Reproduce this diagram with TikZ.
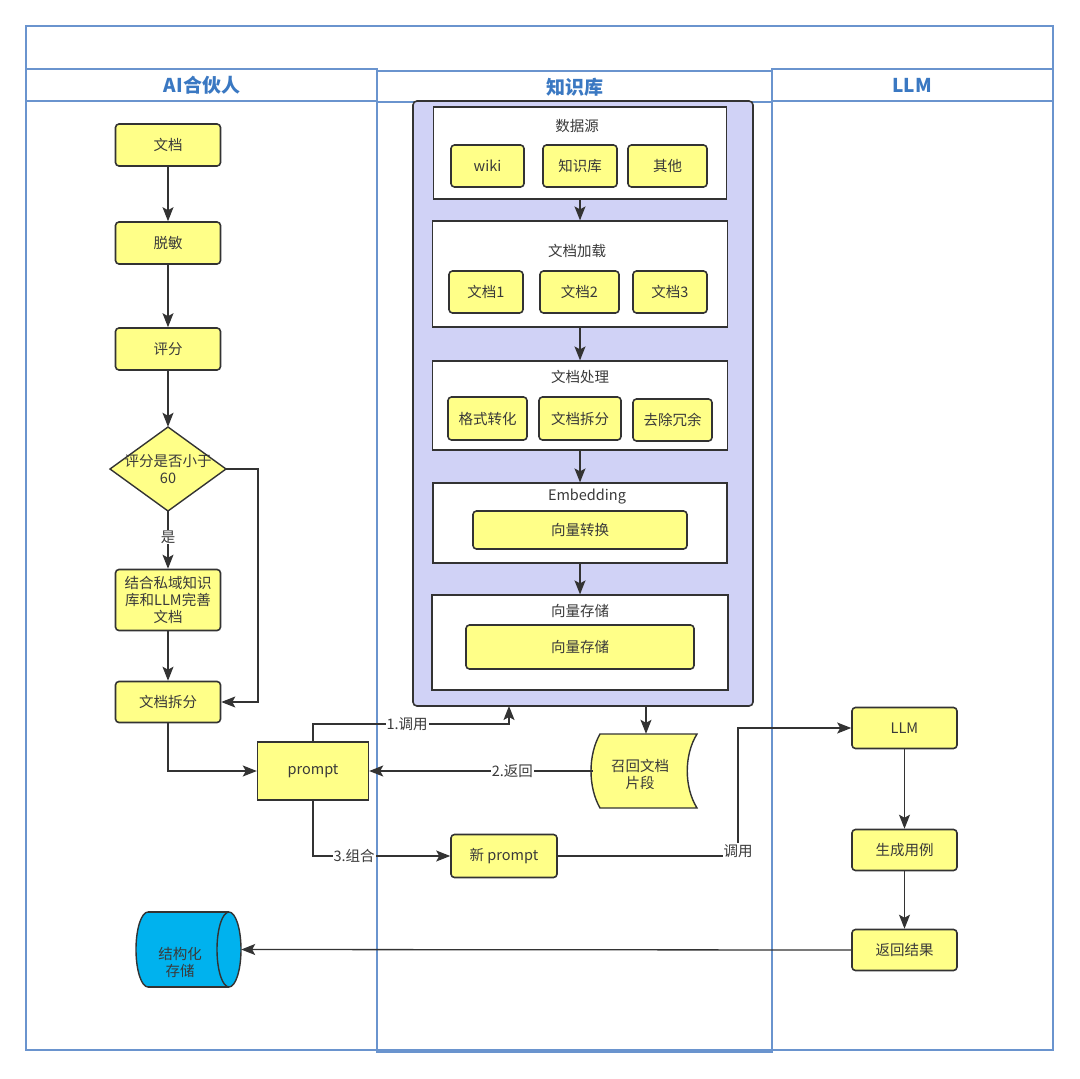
\documentclass[tikz,border=0pt]{standalone}
\usepackage{fontspec}
\setmainfont{Noto Sans CJK SC}
\usetikzlibrary{arrows.meta}
\definecolor{lanec}{HTML}{6A94CE}
\definecolor{hdc}{HTML}{3A78C2}
\definecolor{edgec}{HTML}{333333}
\definecolor{txtc}{HTML}{3A3A3A}
\definecolor{ybox}{HTML}{FFFF88}
\definecolor{kbfill}{HTML}{D0D2F6}
\definecolor{cyl}{HTML}{00B2EE}
\tikzset{
  lane/.style={draw=lanec, line width=1.1pt},
  hd/.style={font=\fontsize{19}{21}\selectfont\bfseries, text=hdc},
  ybox/.style={draw=edgec, fill=ybox, line width=1.6pt, rounded corners=3.5pt, text=txtc,
     font=\fontsize{14.5}{17}\selectfont, align=center, inner sep=0pt},
  panel/.style={draw=edgec, fill=white, line width=1.2pt},
  ptitle/.style={text=txtc, font=\fontsize{14.5}{17}\selectfont},
  arr/.style={draw=edgec, line width=1.3pt, -{Stealth[length=14pt,width=11pt,inset=3pt]}},
  lbl/.style={fill=white, text=txtc, font=\fontsize{14.5}{17}\selectfont, inner sep=1pt},
  ghost/.style={inner sep=0pt, text=txtc, font=\fontsize{14.5}{17}\selectfont, align=center}
}
\begin{document}
\begin{tikzpicture}[x=1pt,y=-1pt]
\useasboundingbox[fill=white] (0,0) rectangle (1080,1079);
% lanes
\draw[lane] (26,26) rectangle (1053,1050);
\draw[lane] (26,69) rectangle (377,1050);
\draw[lane] (26,101) -- (377,101);
\draw[lane] (772,69) rectangle (1053,1050);
\draw[lane] (772,101) -- (1053,101);
\draw[lane] (377,71) rectangle (772,1052);
\draw[lane] (377,102) -- (772,102);
\node[hd] (h1) at (202,85) {AI合伙人};
\node[hd] (h2) at (575,87) {知识库};
\node[hd] (h3) at (912,85) {LLM};

% left flow
\node[ybox, minimum width=105pt, minimum height=42pt] (doc) at (168,145) {文档};
\node[ybox, minimum width=105pt, minimum height=42pt] (desen) at (168,243) {脱敏};
\node[ybox, minimum width=105pt, minimum height=42pt] (score) at (168,349) {评分};
\draw[draw=edgec, fill=ybox, line width=1.4pt] (168,427) -- (226,469) -- (168,511) -- (110,469) -- cycle;
\node[ghost, minimum width=116pt, minimum height=84pt] (dec) at (168,469) {评分是否小于\\60};
\node[ybox, minimum width=105pt, minimum height=61pt] (comb) at (168,600) {结合私域知识\\库和LLM完善\\文档};
\node[ybox, minimum width=105pt, minimum height=41pt] (split) at (168,702) {文档拆分};
\node[draw=edgec, fill=ybox, line width=1.4pt, text=txtc, font=\fontsize{14.5}{17}\selectfont,
      minimum width=111pt, minimum height=58pt, inner sep=0pt] (prompt) at (313,771) {prompt};

% storage cylinder
\fill[cyl] (148,949.5) ellipse (12 and 37.5);
\draw[edgec, line width=1.4pt] (148,949.5) ellipse (12 and 37.5);
\fill[cyl] (148,912) rectangle (229,987);
\draw[edgec, line width=1.4pt] (148,912) -- (229,912) (148,987) -- (229,987);
\filldraw[fill=cyl, draw=edgec, line width=1.4pt] (229,949.5) ellipse (12 and 37.5);
\node[ghost, minimum width=105pt, minimum height=75pt, text depth=0pt] (store) at (188.5,949.5) {};
\node[ghost] (storet) at (180,962) {结构化\\存储};

% knowledge base container
\draw[draw=edgec, fill=kbfill, line width=1.6pt, rounded corners=4pt] (413,101) rectangle (753,706);
\node[inner sep=0pt, minimum width=340pt, minimum height=605pt] (kb) at (583,403.5) {};
\coordinate (kbin) at (509,706);
\coordinate (kbout) at (646,706);

% panel 1
\node[panel, minimum width=293pt, minimum height=92pt, inner sep=0pt] (p1) at (580,153) {};
\node[ptitle] (p1t) at (577,126) {数据源};
\node[ybox, minimum width=73pt, minimum height=42pt] (wiki) at (487.5,166) {wiki};
\node[ybox, minimum width=74pt, minimum height=42pt] (zsk) at (580,166) {知识库};
\node[ybox, minimum width=79pt, minimum height=42pt] (qt) at (667.5,166) {其他};
% panel 2
\node[panel, minimum width=295pt, minimum height=106pt, inner sep=0pt] (p2) at (580,274) {};
\node[ptitle] (p2t) at (577,251) {文档加载};
\node[ybox, minimum width=74pt, minimum height=42pt] (d1) at (486,292) {文档1};
\node[ybox, minimum width=79pt, minimum height=42pt] (d2) at (579.5,292) {文档2};
\node[ybox, minimum width=74pt, minimum height=42pt] (d3) at (670,292) {文档3};
% panel 3
\node[panel, minimum width=295pt, minimum height=89pt, inner sep=0pt] (p3) at (580,405.5) {};
\node[ptitle] (p3t) at (580,377) {文档处理};
\node[ybox, minimum width=79pt, minimum height=43pt] (f1) at (487.5,418.5) {格式转化};
\node[ybox, minimum width=82pt, minimum height=43pt] (f2) at (580,418.5) {文档拆分};
\node[ybox, minimum width=79pt, minimum height=42pt] (f3) at (672.5,420) {去除冗余};
% panel 4
\node[panel, minimum width=294pt, minimum height=80pt, inner sep=0pt] (p4) at (580,523) {};
\node[ptitle] (p4t) at (587,497) {Embedding};
\node[ybox, minimum width=214pt, minimum height=38pt] (vec) at (580,530) {向量转换};
% panel 5
\node[panel, minimum width=296pt, minimum height=95pt, inner sep=0pt] (p5) at (580,642.5) {};
\node[ptitle] (p5t) at (580,611) {向量存储};
\node[ybox, minimum width=228pt, minimum height=44pt] (vs) at (580,647) {向量存储};

\draw[arr] (p1.south) -- (p2.north);
\draw[arr] (p2.south) -- (p3.north);
\draw[arr] (p3.south) -- (p4.north);
\draw[arr] (p4.south) -- (p5.north);

% recall shape
\draw[draw=edgec, fill=ybox, line width=1.4pt]
  (600,734) -- (697,734) .. controls (684,755) and (684,787) .. (697,808)
  -- (600,808) .. controls (588,787) and (588,755) .. (600,734) -- cycle;
\node[ghost, minimum width=104pt, minimum height=74pt] (recall) at (645,771) {};
\node[ghost] (recallt) at (640,774) {召回文档\\片段};

\node[ybox, minimum width=106pt, minimum height=43pt] (newp) at (504,856) {新 prompt};

% right flow
\node[ybox, minimum width=105pt, minimum height=41pt] (llm) at (904.5,728) {LLM};
\node[ybox, minimum width=105pt, minimum height=41pt] (gen) at (904.5,850) {生成用例};
\node[ybox, minimum width=105pt, minimum height=41pt] (ret) at (904.5,950) {返回结果};

% connectors
\draw[arr] (doc) -- (desen);
\draw[arr] (desen) -- (score);
\draw[arr] (score) -- (dec.north);
\draw[arr] (dec.south) -- node[lbl, pos=0.45]{是} (comb);
\draw[arr] (comb) -- (split);
\draw[arr] (dec.east) -- (258,469) |- (split.east);
\draw[arr] (split.south) |- (prompt.west);
\draw[arr] (prompt.north) -- (313,724) -- node[lbl, pos=0.48]{1.调用} (509,724) -- (kbin);
\draw[arr] (kbout) -- (recall.north -| kbout);
\draw[arr] (recall.west) -- node[lbl, pos=0.36]{2.返回} (prompt.east);
\draw[arr] (prompt.south) |- node[lbl, pos=0.65]{3.组合} (newp.west);
\draw[arr] (newp.east) -- node[lbl, pos=1, yshift=5pt]{调用} (738,856) |- (llm.west);
\draw[arr] (llm) -- (gen);
\draw[arr] (gen) -- (ret);
\draw[arr] (ret.west) -- (store.east);
\end{tikzpicture}
\end{document}
